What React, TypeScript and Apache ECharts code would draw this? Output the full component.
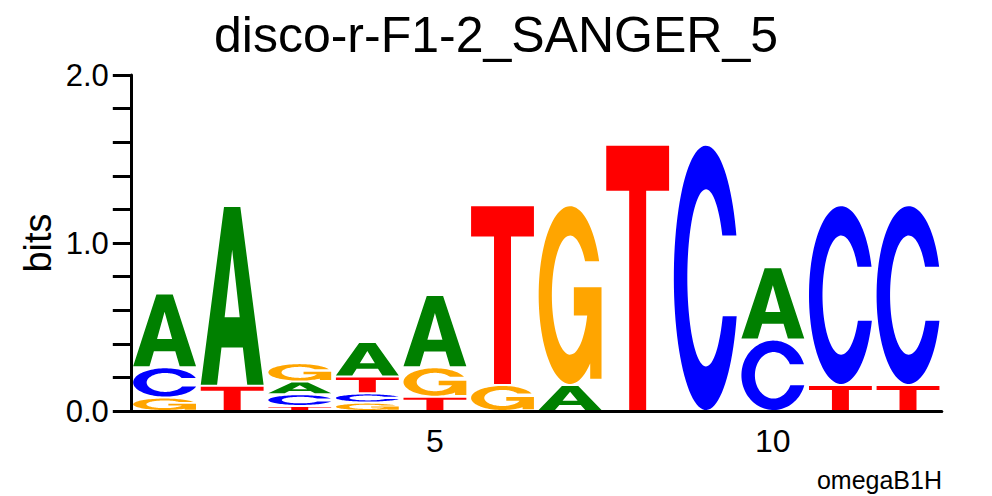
import React, { useEffect, useRef } from "react";
import * as echarts from "echarts";

// Sequence logo data (bits)
const positions = ["1", "2", "3", "4", "5", "6", "7", "8", "9", "10", "11", "12"];
const heightA = [0.44, 1.07, 0.075, 0.205, 0.43, 0, 0.155, 0, 0, 0.43, 0, 0];
const heightC = [0.18, 0, 0.07, 0.055, 0, 0, 0, 0, 1.585, 0.425, 1.07, 1.07];
const heightG = [0.08, 0, 0.11, 0.05, 0.175, 0.155, 1.07, 0, 0, 0, 0, 0];
const heightT = [0, 0.15, 0.03, 0.1, 0.085, 1.07, 0, 1.585, 0, 0, 0.155, 0.155];
const yLabeledTicks = [0, 1, 2];
const xLabeledPositions = ["5", "10"];
const titleText = "disco-r-F1-2_SANGER_5";
const yAxisName = "bits";
const footerText = "omegaB1H";

const COLORS: Record<string, string> = {
  A: "#008000",
  C: "#0000FF",
  G: "#FFA500",
  T: "#FF0000",
};

// ---- glyph outlines in a 100x100 box ----
function ellipsePts(cx: number, cy: number, rx: number, ry: number, a0: number, a1: number, steps: number) {
  let s = "";
  for (let k = 0; k <= steps; k++) {
    const a = a0 + ((a1 - a0) * k) / steps;
    s += ` L${(cx + rx * Math.cos(a)).toFixed(2)},${(cy + ry * Math.sin(a)).toFixed(2)}`;
  }
  return s;
}
function ringPath(yUpper: number, yLower: number) {
  const cx = 50, cy = 50, ro = 50, rxi = 29, ryi = 33.5;
  const oA0 = Math.asin((yUpper - cy) / ro);
  const oA1 = Math.asin((yLower - cy) / ro) - 2 * Math.PI;
  const iA0 = Math.asin((yLower - cy) / ryi);
  const iA1 = Math.asin((yUpper - cy) / ryi) + 2 * Math.PI;
  const outer = ellipsePts(cx, cy, ro, ro, oA0, oA1, 90);
  const inner = ellipsePts(cx, cy, rxi, ryi, iA0, iA1, 90);
  return "M" + outer.slice(2) + inner + " Z";
}
function rectCCW(x0: number, y0: number, x1: number, y1: number) {
  return ` M${x0},${y0} L${x0},${y1} L${x1},${y1} L${x1},${y0} Z`;
}
const GLYPHS: Record<string, string> = {
  A: "M0,100 L37,0 L63,0 L100,100 L74,100 L67,79 L33,79 L26,100 Z M50,24 L38,62 L62,62 Z",
  T: "M0,0 L100,0 L100,17 L63.5,17 L63.5,100 L36.5,100 L36.5,17 L0,17 Z",
  C: ringPath(34, 64.5),
  G: ringPath(31, 48) + rectCCW(56, 45.6, 100, 61.5) + rectCCW(82, 45.6, 100, 97),
};

const FONT = "Liberation Sans";

export default function App() {
  const ref = useRef<HTMLDivElement>(null);
  useEffect(() => {
    document.body.style.margin = "0";
    if (!ref.current) return;
    const chart = echarts.init(ref.current, undefined, { renderer: "svg" });
    const option: any = {
      animation: false,
      backgroundColor: "#ffffff",
      title: {
        text: titleText,
        left: "center",
        top: 5,
        textStyle: { fontFamily: FONT, fontSize: 50, fontWeight: "normal", color: "#000" },
      },
      grid: { left: 130.8, right: 50.2, top: 75, bottom: 85 },
      xAxis: [
        {
          type: "category",
          data: positions,
          boundaryGap: true,
          axisLine: { lineStyle: { color: "#000", width: 3 } },
          axisTick: { alignWithLabel: true, length: 5, lineStyle: { color: "#000", width: 3 } },
          axisLabel: {
            interval: 0,
            margin: 14,
            fontFamily: FONT,
            fontSize: 32,
            color: "#000",
            formatter: (v: string) => (xLabeledPositions.includes(v) ? v : ""),
          },
          splitLine: { show: false },
        },
        {
          type: "category",
          data: positions,
          position: "bottom",
          boundaryGap: true,
          axisLine: { show: false },
          axisTick: {
            alignWithLabel: true,
            length: 10,
            interval: (idx: number) => xLabeledPositions.includes(positions[idx]),
            lineStyle: { color: "#000", width: 3 },
          },
          axisLabel: { show: false },
          splitLine: { show: false },
        },
      ],
      yAxis: {
        type: "value",
        min: 0,
        max: 2,
        interval: 0.2,
        axisLine: { show: true, lineStyle: { color: "#000", width: 3 } },
        axisTick: { show: true, length: 18, lineStyle: { color: "#000", width: 3 } },
        axisLabel: {
          margin: 22,
          fontFamily: FONT,
          fontSize: 31,
          color: "#000",
          formatter: (v: number) =>
            yLabeledTicks.some((t) => Math.abs(t - v) < 1e-6) ? v.toFixed(1) : "",
        },
        splitLine: { show: false },
      },
      graphic: [
        {
          type: "text",
          x: 38,
          y: 243,
          rotation: Math.PI / 2,
          style: {
            text: yAxisName,
            fontFamily: FONT,
            fontSize: 38,
            fill: "#000",
            align: "center",
            verticalAlign: "middle",
          },
        },
        {
          type: "text",
          right: 50,
          bottom: 4,
          style: { text: footerText, fontFamily: FONT, fontSize: 25, fill: "#000" },
        },
      ],
      series: [
        {
          type: "custom",
          xAxisIndex: 0,
          data: positions.map((_, i) => [i]),
          renderItem: (params: any, api: any) => {
            const i = api.value(0);
            const letters = [
              { b: "A", h: heightA[i] },
              { b: "C", h: heightC[i] },
              { b: "G", h: heightG[i] },
              { b: "T", h: heightT[i] },
            ]
              .filter((d) => d.h > 0)
              .sort((a, b) => a.h - b.h);
            const band = api.size([1, 0])[0];
            const w = band * 0.93;
            const children: any[] = [];
            let base = 0;
            for (const l of letters) {
              const pBottom = api.coord([i, base]);
              const pTop = api.coord([i, base + l.h]);
              const y0 = pTop[1] + 1;
              const y1 = pBottom[1] - 1;
              children.push({
                type: "path",
                shape: {
                  pathData: GLYPHS[l.b],
                  x: pBottom[0] - w / 2,
                  y: y0,
                  width: w,
                  height: Math.max(0.5, y1 - y0),
                  layout: "cover",
                },
                style: { fill: COLORS[l.b] },
              });
              base += l.h;
            }
            return { type: "group", children };
          },
        },
      ],
    };
    chart.setOption(option);
    return () => chart.dispose();
  }, []);
  return <div ref={ref} style={{ width: 992, height: 496 }} />;
}
